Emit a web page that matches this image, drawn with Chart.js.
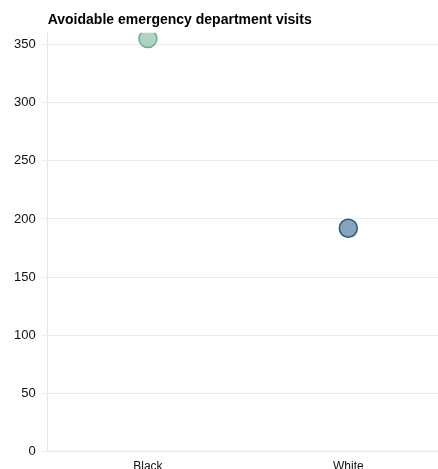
<!DOCTYPE html>
<html>
<head>
<meta charset="utf-8">
<script src="https://cdn.jsdelivr.net/npm/chart.js@4"></script>
<style>
  html, body { margin: 0; padding: 0; background: #fff; overflow: hidden; }
  /* wider than the window: the plot area runs on past the right edge */
  #wrap { width: 459px; height: 476px; position: relative; }
</style>
</head>
<body>
<div id="wrap"><canvas id="chart"></canvas></div>
<script>
// data
const categories = ['Black', 'White'];
const visits = [355, 192];
const yTicks = [0, 50, 100, 150, 200, 250, 300, 350];
const fillColors = ['rgba(110, 176, 143, 0.55)', 'rgba(70, 115, 155, 0.65)'];
const edgeColors = ['#6aae8c', '#2c5a80'];

new Chart(document.getElementById('chart').getContext('2d'), {
    type: 'line',
    data: {
        labels: categories,
        datasets: [{
            label: 'Avoidable emergency department visits',
            data: visits,
            showLine: false,
            pointRadius: 9,
            pointHoverRadius: 9,
            pointBorderWidth: 1.5,
            pointBackgroundColor: fillColors,
            pointBorderColor: edgeColors
        }]
    },
    options: {
        responsive: true,
        maintainAspectRatio: false,
        animation: false,
        layout: { padding: { left: 8, right: 0, top: 6, bottom: 0 } },
        scales: {
            x: {
                offset: true,
                grid: { display: false, drawTicks: true, tickLength: 6 },
                border: { color: '#e6e6e6' },
                ticks: { color: '#111', font: { family: 'Liberation Sans', size: 12 }, padding: 2 }
            },
            y: {
                min: 0,
                max: 360,
                afterBuildTicks: function(axis) {
                    axis.ticks = yTicks.map(v => ({ value: v }));
                },
                grid: { color: '#ececec', tickLength: 6 },
                border: { color: '#e6e6e6' },
                ticks: { color: '#111', font: { family: 'Liberation Sans', size: 13 }, padding: 6 }
            }
        },
        plugins: {
            legend: { display: false },
            tooltip: { enabled: false },
            title: {
                display: true,
                text: 'Avoidable emergency department visits',
                align: 'start',
                fullSize: false,
                color: '#000',
                font: { family: 'Liberation Sans', size: 14, weight: 'bold' },
                padding: { top: 6, bottom: 4 }
            }
        }
    }
});
</script>
</body>
</html>
